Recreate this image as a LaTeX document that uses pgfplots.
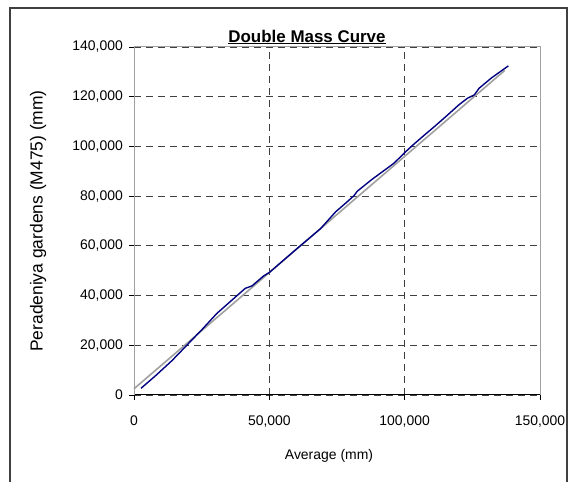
\documentclass[border=0pt]{standalone}
\usepackage{pgfplots}
\pgfplotsset{compat=1.18}
\usepackage{fontspec}
\setmainfont{Liberation Sans}
\definecolor{frame}{HTML}{404040}
\definecolor{navyline}{HTML}{000080}
\definecolor{grayline}{HTML}{A0A0A0}
\begin{document}
\begin{tikzpicture}[x=1bp,y=1bp]
\useasboundingbox (0,0) rectangle (571,482);
\draw[frame, line width=1.5bp] (10,-5) -- (10,474) -- (567,474) -- (567,-5);
\node[font=\fontsize{17}{20}\selectfont\bfseries] at (307,445) {\underline{Double Mass Curve}};
\begin{axis}[
  at={(134bp,87bp)}, anchor=south west,
  scale only axis, width=406bp, height=348bp,
  xmin=0, xmax=150000, ymin=0, ymax=140000,
  axis x line*=bottom, axis y line*=left,
  axis line style={black, line width=1bp, -},
  xtick={0,50000,100000,150000},
  ytick={0,20000,40000,60000,80000,100000,120000,140000},
  tick align=outside, major tick length=5bp,
  tick style={black, line width=0.8bp},
  scaled ticks=false,
  /pgf/number format/.cd, fixed, 1000 sep={,}, assume math mode=true,
  /pgfplots/.cd,
  tick label style={font=\fontsize{14}{16}\selectfont},
  yticklabel style={anchor=east, inner sep=0pt, xshift=-6bp},
  xticklabel style={anchor=north, inner sep=0pt, yshift=-16bp},
  grid=major,
  major grid style={frame, dash pattern=on 7bp off 5bp, line width=0.8bp},
  xlabel={Average (mm)},
  ylabel={Peradeniya gardens (M475) (mm)},
  xlabel style={font=\fontsize{14}{16}\selectfont, at={(rel axis cs:0.5,0)}, anchor=center, xshift=-8bp, yshift=-61bp},
  ylabel style={font=\fontsize{17.5}{20}\selectfont, at={(rel axis cs:0,0.5)}, anchor=center, xshift=0bp, yshift=96bp},
  clip=false,
]
\draw[grayline, line width=1bp] (rel axis cs:0,0) -- (rel axis cs:0,1) -- (rel axis cs:1,1) -- (rel axis cs:1,0);
\addplot[grayline, line width=1.6bp] coordinates {(0,2500) (137000,130600)};
\addplot[navyline, line width=1.4bp] coordinates {
(2600,2700) (8000,7800) (14000,13800) (19500,20000) (25000,26200) (30600,32800)
(36000,38000) (41100,42900) (43600,43900) (47900,47900) (50000,49300) (55000,54000)
(60000,58700) (65000,63300) (69000,67000) (74500,73700) (78000,77000) (81200,80100)
(82500,82000) (88000,86800) (92000,90000) (96000,93200) (100400,97900) (103500,101000)
(107000,104300) (110900,107900) (115000,111800) (120000,116700) (123200,119400)
(125700,120700) (127500,123400) (132000,127500) (138300,132400)};
\end{axis}
\end{tikzpicture}
\end{document}
